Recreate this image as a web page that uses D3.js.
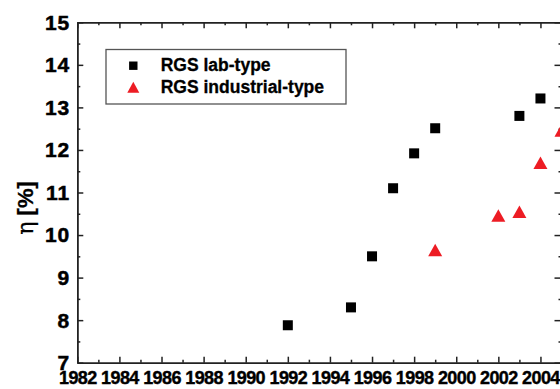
<!DOCTYPE html>
<html>
<head>
<meta charset="utf-8">
<script src="https://cdn.jsdelivr.net/npm/d3@7"></script>
<style>
  body { margin: 0; background: #fff; }
  svg { display: block; font-family: "Liberation Sans", Arial, sans-serif; }
</style>
</head>
<body>
<div id="chart"></div>
<script>
// efficiency of RGS cells per year
const labYears = [1992, 1995, 1996, 1997, 1998, 1999, 2003, 2004];
const labEff = [7.88, 8.3, 9.5, 11.1, 11.92, 12.51, 12.8, 13.21];

const indYears = [1999, 2002, 2003, 2004, 2005];
const indEff = [9.65, 10.46, 10.55, 11.7, 12.46];

const xMajor = [1982, 1984, 1986, 1988, 1990, 1992, 1994, 1996, 1998, 2000, 2002, 2004];
const xMinor = [1983, 1985, 1987, 1989, 1991, 1993, 1995, 1997, 1999, 2001, 2003, 2005];
const yMajor = [7, 8, 9, 10, 11, 12, 13, 14, 15];
const yMinor = [7.5, 8.5, 9.5, 10.5, 11.5, 12.5, 13.5, 14.5];

const legendNames = ["RGS lab-type", "RGS industrial-type"];

const W = 560, H = 389;
const mLeft = 77.3, mTop = 22.3, mRight = 561.5, mBottom = 362.7;
const red = "#ed1c24";
const axisColor = "#222";

const svg = d3.select("#chart").append("svg")
  .attr("width", W)
  .attr("height", H);

const x = d3.scaleLinear().domain([1982, 2005]).range([mLeft, mRight]);
const y = d3.scaleLinear().domain([7, 15]).range([mBottom, mTop]);

function styleAxis(g) {
  g.selectAll("path, line").attr("stroke", axisColor).attr("stroke-width", 1.5);
}

// heavier text, the original looks bolder than plain bold
function heavy(sel, w) {
  sel.attr("fill", "#000").attr("stroke", "#000").attr("stroke-width", w || 0.4);
}

// bottom axis, labels + major ticks
svg.append("g")
  .attr("transform", "translate(0," + mBottom + ")")
  .call(d3.axisBottom(x).tickValues(xMajor).tickFormat(d3.format("d"))
    .tickSizeInner(-6).tickSizeOuter(0).tickPadding(9))
  .call(styleAxis)
  .call(g => g.selectAll("text")
    .attr("font-size", 18)
    .attr("font-weight", "bold")
    .attr("letter-spacing", -0.6)
    .call(heavy));
svg.append("g")
  .attr("transform", "translate(0," + mBottom + ")")
  .call(d3.axisBottom(x).tickValues(xMinor).tickFormat("").tickSizeInner(-3).tickSizeOuter(0))
  .call(styleAxis);

// top axis
svg.append("g")
  .attr("transform", "translate(0," + mTop + ")")
  .call(d3.axisTop(x).tickValues(xMajor).tickFormat("").tickSizeInner(-6).tickSizeOuter(0))
  .call(styleAxis);
svg.append("g")
  .attr("transform", "translate(0," + mTop + ")")
  .call(d3.axisTop(x).tickValues(xMinor).tickFormat("").tickSizeInner(-3).tickSizeOuter(0))
  .call(styleAxis);

// left axis
svg.append("g")
  .attr("transform", "translate(" + mLeft + ",0)")
  .call(d3.axisLeft(y).tickValues(yMajor).tickFormat(d3.format("d"))
    .tickSizeInner(-6).tickSizeOuter(0).tickPadding(7))
  .call(styleAxis)
  .call(g => g.selectAll("text")
    .attr("font-size", 21)
    .attr("font-weight", "bold")
    .attr("letter-spacing", 1)
    .attr("dy", "0.33em")
    .call(heavy, 0.5));
svg.append("g")
  .attr("transform", "translate(" + mLeft + ",0)")
  .call(d3.axisLeft(y).tickValues(yMinor).tickFormat("").tickSizeInner(-3).tickSizeOuter(0))
  .call(styleAxis);

// right axis
svg.append("g")
  .attr("transform", "translate(" + mRight + ",0)")
  .call(d3.axisRight(y).tickValues(yMajor).tickFormat("").tickSizeInner(-7).tickSizeOuter(0))
  .call(styleAxis);
svg.append("g")
  .attr("transform", "translate(" + mRight + ",0)")
  .call(d3.axisRight(y).tickValues(yMinor).tickFormat("").tickSizeInner(-3).tickSizeOuter(0))
  .call(styleAxis);

// y label
const yl = svg.append("text")
  .attr("transform", "translate(33,208) rotate(-90)")
  .attr("text-anchor", "middle")
  .attr("font-size", 22)
  .call(heavy, 0.3);
yl.append("tspan").attr("font-family", "'DejaVu Serif', serif").text("η");
yl.append("tspan").attr("font-weight", "bold").text(" [%]");

// markers
const sq = 10, triW = 14, triH = 12.5;
const triPath = (w, h) => "M0," + (-h / 2) + "L" + (w / 2) + "," + (h / 2) + "L" + (-w / 2) + "," + (h / 2) + "Z";

svg.append("g").selectAll("rect")
  .data(labYears.map((d, i) => ({ year: d, eff: labEff[i] })))
  .join("rect")
  .attr("x", d => x(d.year) - sq / 2)
  .attr("y", d => y(d.eff) - sq / 2)
  .attr("width", sq)
  .attr("height", sq)
  .attr("fill", "#000");

svg.append("g").selectAll("path")
  .data(indYears.map((d, i) => ({ year: d, eff: indEff[i] })))
  .join("path")
  .attr("transform", d => "translate(" + x(d.year) + "," + y(d.eff) + ")")
  .attr("d", triPath(triW, triH))
  .attr("fill", red);

// legend
const lg = svg.append("g").attr("transform", "translate(106,49.5)");
lg.append("rect")
  .attr("width", 240)
  .attr("height", 54.5)
  .attr("fill", "#fff")
  .attr("stroke", "#555")
  .attr("stroke-width", 1.3);
lg.append("rect")
  .attr("x", 27.3 - 4.2).attr("y", 16.2 - 4.2)
  .attr("width", 8.4).attr("height", 8.4)
  .attr("fill", "#000");
lg.append("path")
  .attr("transform", "translate(27.3,37.8)")
  .attr("d", triPath(12, 11))
  .attr("fill", red);
lg.selectAll("text.lbl")
  .data(legendNames)
  .join("text")
  .attr("class", "lbl")
  .attr("x", 54.7)
  .attr("y", (d, i) => 21.2 + i * 22)
  .attr("font-size", 17.5)
  .attr("font-weight", "bold")
  .call(heavy, 0.3)
  .text(d => d);
</script>
</body>
</html>
